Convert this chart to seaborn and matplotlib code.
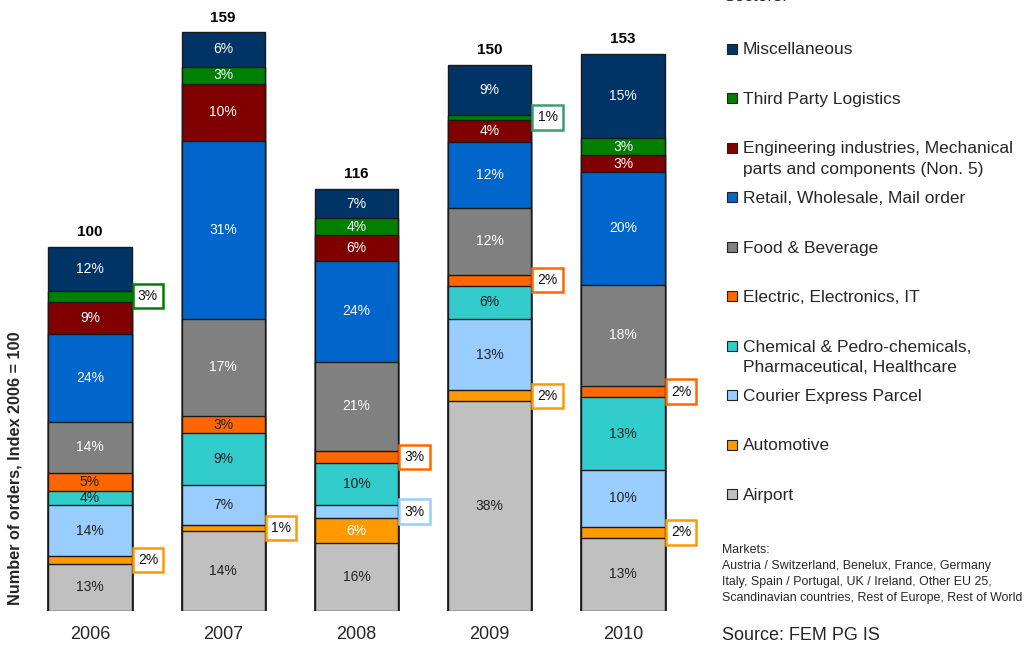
import numpy as np
import pandas as pd
import matplotlib.pyplot as plt
import seaborn as sns
from matplotlib.patches import Rectangle

years = ['2006', '2007', '2008', '2009', '2010']
totals = [100, 159, 116, 150, 153]

# sectors listed bottom -> top of each stack
sectors = ['Airport', 'Automotive', 'Courier Express Parcel',
           'Chemical & Pedro-chemicals,\nPharmaceutical, Healthcare',
           'Electric, Electronics, IT', 'Food & Beverage',
           'Retail, Wholesale, Mail order',
           'Engineering industries, Mechanical\nparts and components (Non. 5)',
           'Third Party Logistics', 'Miscellaneous']
colors = ['#C0C0C0', '#FF9900', '#99CCFF', '#33CCCC', '#FF6600',
          '#808080', '#0066CC', '#800000', '#008000', '#003366']
text_colors = ['#222222', 'white', '#222222', '#222222', '#222222',
               'white', 'white', 'white', 'white', 'white']

# share of each sector per year (%), rows follow sectors order
shares = {
    '2006': [13, 2, 14, 4, 5, 14, 24, 9, 3, 12],
    '2007': [14, 1, 7, 9, 3, 17, 31, 10, 3, 6],
    '2008': [16, 6, 3, 10, 3, 21, 24, 6, 4, 7],
    '2009': [38, 2, 13, 6, 2, 12, 12, 4, 1, 9],
    '2010': [13, 2, 10, 13, 2, 18, 20, 3, 3, 15],
}

# segment heights in index units
heights = pd.DataFrame({y: np.array(shares[y]) / sum(shares[y]) * t
                        for y, t in zip(years, totals)}, index=range(len(sectors)))
cum = heights.cumsum()

sns.set_theme(style='white')
plt.rcParams['font.family'] = ['Liberation Sans', 'DejaVu Sans']

fig = plt.figure(figsize=(10.26, 6.48), dpi=100)
W, H = 1026, 648
ax = fig.add_axes([10 / W, 37 / H, 693 / W, 600.6 / H])

# draw stacks top-down so each lower segment covers the one above
for k in range(len(sectors) - 1, -1, -1):
    sns.barplot(x=years, y=cum.loc[k].values, color=colors[k], width=0.625,
                edgecolor='#1a1a1a', linewidth=1.0, saturation=1, ax=ax)

ax.set_xlim(-0.6, 4.6)
ax.set_ylim(0, 165)
sns.despine(ax=ax, left=True, bottom=True)
ax.set_yticks([])
ax.set_ylabel('')
ax.tick_params(axis='x', length=0, labelsize=13, pad=11)
ax.set_xticks(range(len(years)))
ax.set_xticklabels(years)

for i, y in enumerate(years):
    for k in range(len(sectors)):
        h = heights.loc[k, y]
        mid = cum.loc[k, y] - h / 2
        lab = f'{shares[y][k]}%'
        if h < 4:
            ec = '#3A9F6E' if (y == '2009' and k == 8) else colors[k]
            ax.annotate(lab, xy=(i + 0.3125, mid), xytext=(4.5, 0),
                        textcoords='offset points', ha='left', va='center',
                        fontsize=10, color='#111111',
                        bbox=dict(boxstyle='square,pad=0.38', fc='white',
                                  ec=ec, lw=1.8))
        else:
            ax.text(i, mid, lab, ha='center', va='center', fontsize=10,
                    color=text_colors[k])
    ax.annotate(str(totals[i]), xy=(i, totals[i]), xytext=(0, 5.5),
                textcoords='offset points', ha='center', va='bottom',
                fontsize=11, fontweight='bold', color='black')

fig.text(15 / W, 1 - 468 / H, 'Number of orders, Index 2006 = 100',
         rotation=90, ha='center', va='center', fontsize=11.7, fontweight='bold')

# legend, top entry first
fig.text(723 / W, 1 + 3.5 / H, 'Sectors:', ha='left', va='center', fontsize=12.5)
for n, k in enumerate(range(len(sectors) - 1, -1, -1)):
    yc = 48.5 + n * 49.5
    fig.patches.append(Rectangle((727 / W, 1 - (yc + 5) / H), 10 / W, 10 / H,
                                 transform=fig.transFigure, fc=colors[k],
                                 ec='#222222', lw=0.8))
    fig.text(743 / W, 1 - (yc - 6) / H, sectors[k], ha='left', va='top',
             fontsize=12.5, linespacing=1.45)

fig.text(722 / W, 1 - 544 / H,
         'Markets:\nAustria / Switzerland, Benelux, France, Germany\n'
         'Italy, Spain / Portugal, UK / Ireland, Other EU 25,\n'
         'Scandinavian countries, Rest of Europe, Rest of World',
         ha='left', va='top', fontsize=8.9, linespacing=1.45)
fig.text(722 / W, 1 - 636 / H, 'Source: FEM PG IS', ha='left', va='center',
         fontsize=13)

fig.savefig('out.png', dpi=100)
